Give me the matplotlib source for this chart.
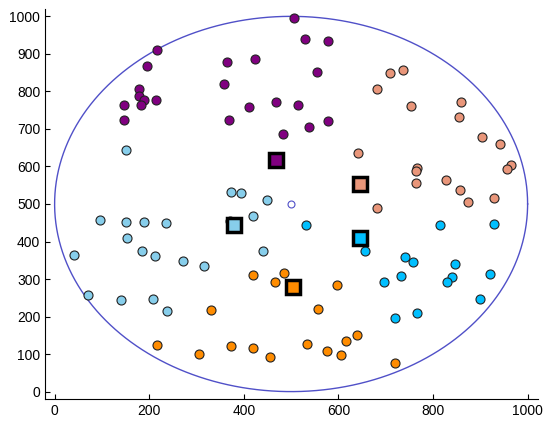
import numpy as np
import matplotlib
matplotlib.use("Agg")
from matplotlib import pyplot as plt

# cluster points (x, y)
purple_x = [217, 195, 365, 424, 359, 178, 178, 190, 214, 183, 147, 147, 369, 411, 469, 483,
            507, 529, 578, 555, 515, 577, 537]
purple_y = [911, 868, 879, 886, 820, 806, 788, 778, 778, 764, 764, 724, 724, 758, 771, 687,
            996, 940, 934, 852, 764, 720, 705]

salmon_x = [709, 737, 682, 753, 859, 855, 903, 941, 641, 964, 956, 767, 764, 763, 827, 857,
            873, 929, 681]
salmon_y = [849, 858, 806, 762, 772, 732, 679, 661, 636, 604, 593, 597, 587, 556, 563, 538,
            506, 515, 488]

lightblue_x = [151, 373, 395, 449, 96, 150, 190, 235, 419, 371, 153, 40, 185, 213, 271, 316,
               440, 70, 140, 209, 237]
lightblue_y = [644, 533, 529, 511, 456, 452, 453, 449, 469, 455, 409, 364, 374, 361, 348, 336,
               374, 257, 243, 247, 215]

cyan_x = [531, 815, 929, 657, 740, 757, 847, 733, 697, 840, 829, 920, 899, 720, 766]
cyan_y = [444, 444, 447, 376, 359, 346, 339, 308, 293, 305, 291, 313, 248, 195, 210]

orange_x = [419, 466, 485, 331, 217, 305, 373, 419, 455, 597, 557, 639, 615, 533, 575, 606, 719]
orange_y = [310, 292, 316, 218, 124, 101, 121, 116, 92, 285, 220, 152, 136, 127, 108, 97, 76]

# cluster centres
centre_x = [469, 645, 380, 645, 503]
centre_y = [616, 553, 445, 408, 278]

colors = ['#800080', '#e9967a', '#87ceeb', '#00bfff', '#ff8c00']

fig = plt.figure(figsize=(5.44, 4.21), dpi=100)
ax = fig.add_axes([0.083, 0.052, 0.906, 0.927])

# bounding circle
t = np.linspace(0, 2 * np.pi, 400)
ax.plot(500 + 500 * np.cos(t), 500 + 500 * np.sin(t), color='#5050c8', lw=1)
ax.plot([500], [500], 'o', mfc='white', mec='#5050c8', ms=5, mew=0.8)

groups = [(purple_x, purple_y), (salmon_x, salmon_y), (lightblue_x, lightblue_y),
          (cyan_x, cyan_y), (orange_x, orange_y)]
for (gx, gy), c in zip(groups, colors):
    ax.plot(gx, gy, 'o', mfc=c, mec='#222222', ms=6.5, mew=0.8)

for cx, cy, c in zip(centre_x, centre_y, colors):
    ax.plot(cx, cy, 's', mfc=c, mec='black', ms=10.5, mew=2.5)

ax.set_xlim(-20, 1022)
ax.set_ylim(-20, 1020)
ax.set_xticks(range(0, 1001, 200))
ax.set_yticks(range(0, 1001, 100))
ax.spines['top'].set_visible(False)
ax.spines['right'].set_visible(False)
ax.tick_params(direction='in', labelsize=10)
for lab in ax.get_xticklabels() + ax.get_yticklabels():
    lab.set_fontfamily('Liberation Sans')

fig.savefig('out.png', dpi=100)
